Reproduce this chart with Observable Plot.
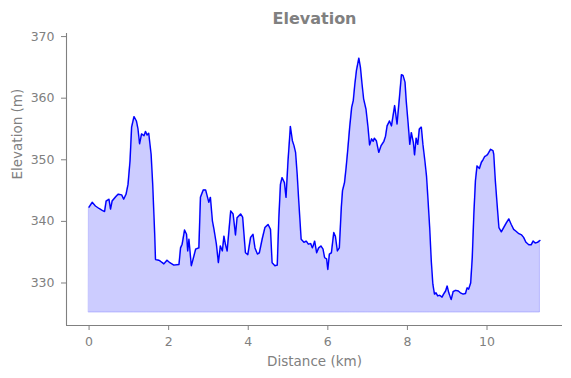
<!DOCTYPE html>
<html>
<head>
<meta charset="utf-8">
<script src="https://cdn.jsdelivr.net/npm/d3@7"></script>
<script src="https://cdn.jsdelivr.net/npm/@observablehq/plot@0.6"></script>
<style>
  html, body { margin: 0; padding: 0; background: #fff; }
  #chart svg { display: block; }
</style>
</head>
<body>
<div id="chart"></div>
<script>
const titleText = "Elevation";
const xLabel = "Distance (km)";
const yLabel = "Elevation (m)";
const xTicks = [0, 2, 4, 6, 8, 10];
const yTicks = [330, 340, 350, 360, 370];
const xDomain = [-0.567, 11.897];
const yDomain = [323.1, 370.5];
const baseElevation = 325.2;

const distanceKm = [
  0.00, 0.08, 0.16, 0.25, 0.33, 0.39, 0.43, 0.50, 0.54, 0.58, 0.67, 0.73, 0.82, 0.87, 0.93, 0.98,
  1.03, 1.07, 1.13, 1.19, 1.23, 1.27, 1.32, 1.38, 1.42, 1.46, 1.50, 1.56, 1.60, 1.65, 1.67, 1.75,
  1.80, 1.84, 1.88, 1.96, 2.03, 2.13, 2.26, 2.30, 2.34, 2.40, 2.45, 2.48, 2.51, 2.57, 2.62, 2.68,
  2.76, 2.80, 2.87, 2.93, 2.97, 3.01, 3.05, 3.10, 3.14, 3.20, 3.25, 3.30, 3.35, 3.39, 3.43, 3.47,
  3.56, 3.62, 3.68, 3.72, 3.81, 3.86, 3.93, 3.99, 4.06, 4.12, 4.17, 4.23, 4.28, 4.35, 4.42, 4.50,
  4.56, 4.60, 4.67, 4.73, 4.77, 4.81, 4.85, 4.91, 4.95, 5.00, 5.06, 5.11, 5.15, 5.19, 5.23, 5.27,
  5.33, 5.40, 5.46, 5.51, 5.57, 5.61, 5.63, 5.67, 5.72, 5.77, 5.83, 5.88, 5.92, 5.97, 6.00, 6.04,
  6.09, 6.15, 6.19, 6.24, 6.29, 6.34, 6.37, 6.42, 6.46, 6.50, 6.55, 6.60, 6.64, 6.68, 6.72, 6.78,
  6.82, 6.86, 6.90, 6.96, 7.01, 7.05, 7.10, 7.14, 7.17, 7.22, 7.28, 7.34, 7.41, 7.45, 7.49, 7.55,
  7.60, 7.68, 7.74, 7.80, 7.85, 7.89, 7.94, 7.97, 8.02, 8.06, 8.10, 8.15, 8.18, 8.22, 8.26, 8.30,
  8.35, 8.39, 8.44, 8.48, 8.52, 8.56, 8.60, 8.64, 8.68, 8.72, 8.76, 8.81, 8.87, 8.91, 8.96, 9.00,
  9.04, 9.10, 9.15, 9.21, 9.28, 9.33, 9.40, 9.46, 9.50, 9.54, 9.59, 9.63, 9.67, 9.71, 9.75, 9.81,
  9.86, 9.90, 9.94, 9.99, 10.02, 10.09, 10.15, 10.17, 10.21, 10.26, 10.30, 10.36, 10.42, 10.49, 10.55, 10.61,
  10.67, 10.73, 10.80, 10.87, 10.92, 10.98, 11.05, 11.11, 11.16, 11.21, 11.27, 11.33
];
const elevationM = [
  342.3, 343.1, 342.5, 342.1, 341.8, 341.6, 343.3, 343.6, 342.0, 343.3, 344.0, 344.4, 344.3, 343.6, 344.4, 346.0,
  349.8, 355.3, 357.0, 356.3, 355.0, 352.6, 354.2, 353.9, 354.6, 354.0, 354.3, 350.9, 346.0, 337.9, 333.8, 333.7,
  333.5, 333.3, 333.1, 333.7, 333.3, 332.9, 333.0, 335.7, 336.3, 338.6, 337.9, 335.2, 337.1, 332.8, 334.0, 335.5,
  335.7, 343.9, 345.1, 345.1, 344.1, 343.1, 343.9, 340.1, 338.7, 336.3, 333.3, 336.0, 335.2, 337.6, 336.2, 335.2,
  341.7, 341.2, 337.8, 340.6, 341.2, 340.7, 334.9, 334.6, 337.4, 337.9, 335.7, 334.7, 334.9, 337.1, 339.0, 339.5,
  338.7, 333.3, 332.8, 332.9, 340.6, 346.0, 347.1, 346.3, 343.9, 349.8, 355.4, 353.1, 352.3, 351.2, 347.7, 343.3,
  337.1, 336.6, 336.8, 336.3, 336.4, 335.7, 336.0, 336.8, 334.9, 335.7, 336.0, 335.5, 334.1, 333.9, 332.2, 334.7,
  334.9, 338.2, 337.6, 335.2, 335.7, 342.3, 345.0, 346.3, 348.7, 351.5, 355.3, 358.5, 359.6, 362.3, 364.5, 366.5,
  365.0, 362.3, 359.9, 358.2, 355.3, 352.4, 353.4, 353.0, 353.5, 353.1, 351.2, 352.3, 353.0, 353.8, 355.5, 356.3,
  355.5, 358.8, 355.8, 360.1, 363.8, 363.7, 362.6, 359.6, 355.8, 352.5, 354.4, 352.8, 350.8, 353.5, 352.5, 355.0,
  355.3, 352.5, 349.8, 347.4, 343.3, 339.0, 333.6, 329.8, 328.2, 328.4, 327.9, 328.0, 327.7, 328.2, 328.7, 329.5,
  328.4, 327.3, 328.6, 328.8, 328.7, 328.4, 328.2, 328.3, 329.2, 329.0, 330.0, 334.1, 341.2, 346.6, 349.0, 348.6,
  349.6, 350.0, 350.5, 350.7, 350.9, 351.7, 351.5, 350.9, 346.6, 342.3, 339.0, 338.3, 339.0, 339.8, 340.4, 339.5,
  338.7, 338.4, 338.0, 337.8, 337.4, 336.6, 336.2, 336.2, 336.8, 336.5, 336.6, 336.9
];

const data = distanceKm.map((d, i) => ({ d, e: elevationM[i] }));

const gray = "#808080";
const font = "DejaVu Sans, sans-serif";

const chart = Plot.plot({
  width: 571,
  height: 378,
  marginLeft: 66,
  marginRight: 9,
  marginTop: 33,
  marginBottom: 53,
  style: { fontFamily: font, color: gray, background: "#fff", overflow: "visible" },
  x: { domain: xDomain, ticks: xTicks, label: null },
  y: { domain: yDomain, ticks: yTicks, label: null },
  marks: [
    Plot.areaY(data, {
      x: "d", y1: baseElevation, y2: "e",
      fill: "blue", fillOpacity: 0.2,
      stroke: "blue", strokeOpacity: 0.2, strokeWidth: 1
    }),
    Plot.lineY(data, { x: "d", y: "e", stroke: "blue", strokeWidth: 1.4 }),
    Plot.ruleX([xDomain[0]], { stroke: gray, strokeWidth: 1.1 }),
    Plot.ruleY([yDomain[0]], { stroke: gray, strokeWidth: 1.1 }),
    Plot.axisX({ ticks: xTicks, tickSize: 5, tickPadding: 6.5, fontSize: 12.5, stroke: gray, fill: gray, label: null }),
    Plot.axisY({ ticks: yTicks, tickSize: 5, tickPadding: 7, fontSize: 12.5, stroke: gray, fill: gray, label: null }),
    Plot.text([xLabel], { frameAnchor: "bottom", dy: 36, lineAnchor: "middle", fontSize: 13.5, fill: gray, text: d => d }),
    Plot.text([yLabel], { frameAnchor: "left", dx: -49, rotate: -90, lineAnchor: "middle", fontSize: 13.5, fill: gray, text: d => d }),
    Plot.text([titleText], { frameAnchor: "top", dy: -15, lineAnchor: "middle", fontSize: 16, fontWeight: "bold", fill: gray, text: d => d })
  ]
});
document.getElementById("chart").appendChild(chart);
</script>
</body>
</html>
